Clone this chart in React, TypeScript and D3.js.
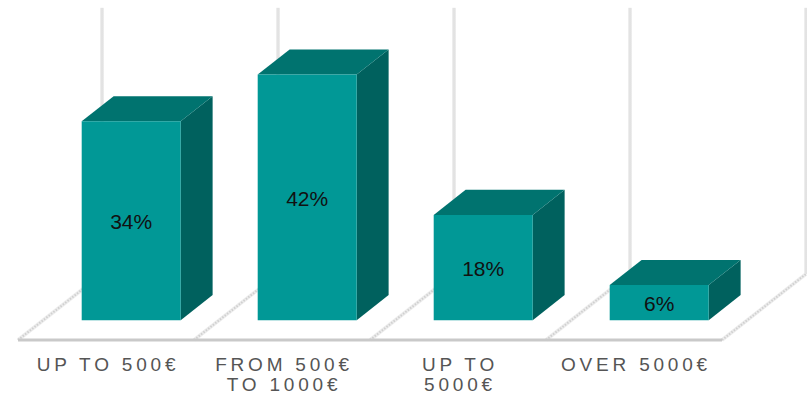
import React from "react";
import * as d3 from "d3";

const categories: string[][] = [
  ["UP TO 500€"],
  ["FROM 500€", "TO 1000€"],
  ["UP TO", "5000€"],
  ["OVER 5000€"],
];
const values: number[] = [34, 42, 18, 6];
const valueLabels: string[] = ["34%", "42%", "18%", "6%"];
const axisMax = 45.5;

const W = 807;
const H = 401;
const floorY = 340;
const depthX = 84;
const depthY = 66;
const barZ0 = 0.3;
const barZ1 = 0.68;

const FRONT = "#019896";
const TOP = "#00736F";
const SIDE = "#00615E";

export default function App() {
  const keys = categories.map((c) => c.join(" "));
  const x = d3
    .scaleBand<string>()
    .domain(keys)
    .range([18, 722])
    .paddingInner(0.4375)
    .paddingOuter(0.21875);
  const step = x.step();
  const h = d3.scaleLinear().domain([0, 50]).range([0, 292.5]);

  const P = (fx: number, hh: number, z: number): [number, number] => [
    fx + z * depthX,
    floorY - hh - z * depthY,
  ];
  const poly = (pts: [number, number][]) => pts.map((p) => p.join(",")).join(" ");

  const bounds = d3.range(keys.length + 1).map((i) => 18 + i * step);

  return (
    <svg width={W} height={H} style={{ position: "absolute", left: 0, top: 0 }}>
      <defs>
        <linearGradient id="grid" x1="0" x2="1" y1="0" y2="0">
          <stop offset="0" stopColor="#f2f2f2" />
          <stop offset="0.5" stopColor="#dedede" />
          <stop offset="1" stopColor="#f0f0f0" />
        </linearGradient>
      </defs>
      {/* gridlines on back plane */}
      {bounds.map((bx, i) => {
        const [gx, gy] = P(bx, 0, 1);
        const [, gt] = P(bx, h(axisMax), 1);
        return <rect key={"g" + i} x={gx - 2} y={gt} width={4} height={gy - gt} fill="url(#grid)" />;
      })}
      {/* floor diagonals */}
      {bounds.map((bx, i) => {
        const a = P(bx, 0, 0);
        const b = P(bx, 0, 1);
        return (
          <g key={"d" + i}>
            <line x1={a[0]} y1={a[1]} x2={b[0]} y2={b[1]} stroke="#ececec" strokeWidth={3.5} />
            <line
              x1={a[0]}
              y1={a[1]}
              x2={b[0]}
              y2={b[1]}
              stroke="#d0d0d0"
              strokeWidth={2}
              strokeDasharray="1.5 1.5"
            />
          </g>
        );
      })}
      {/* floor front edge */}
      <line x1={bounds[0]} y1={floorY} x2={bounds[bounds.length - 1]} y2={floorY} stroke="#c9c9c9" strokeWidth={3} />
      {/* bars */}
      {keys.map((k, i) => {
        const x0 = x(k)!;
        const x1 = x0 + x.bandwidth();
        const hh = h(values[i]);
        const f = [P(x0, 0, barZ0), P(x1, 0, barZ0), P(x1, hh, barZ0), P(x0, hh, barZ0)];
        const top = [P(x0, hh, barZ0), P(x1, hh, barZ0), P(x1, hh, barZ1), P(x0, hh, barZ1)];
        const side = [P(x1, 0, barZ0), P(x1, 0, barZ1), P(x1, hh, barZ1), P(x1, hh, barZ0)];
        const cx = (f[0][0] + f[1][0]) / 2;
        const cy = (f[0][1] + f[3][1]) / 2;
        return (
          <g key={"b" + i}>
            <polygon points={poly(side)} fill={SIDE} />
            <polygon points={poly(top)} fill={TOP} />
            <polygon points={poly(f)} fill={FRONT} />
            <text
              x={cx}
              y={cy + 1}
              textAnchor="middle"
              dominantBaseline="central"
              fontFamily="'Liberation Sans', Arial, sans-serif"
              fontSize={21}
              fill="#111"
            >
              {valueLabels[i]}
            </text>
          </g>
        );
      })}
      {/* category labels */}
      {keys.map((k, i) => {
        const cx = x(k)! + x.bandwidth() / 2 + 2;
        return (
          <text
            key={"l" + i}
            x={cx}
            textAnchor="middle"
            fontFamily="'Liberation Sans', Arial, sans-serif"
            fontSize={19}
            letterSpacing={3.8}
            fill="#555"
          >
            {categories[i].map((line, j) => (
              <tspan key={j} x={cx} y={371 + j * 20}>
                {line}
              </tspan>
            ))}
          </text>
        );
      })}
    </svg>
  );
}
